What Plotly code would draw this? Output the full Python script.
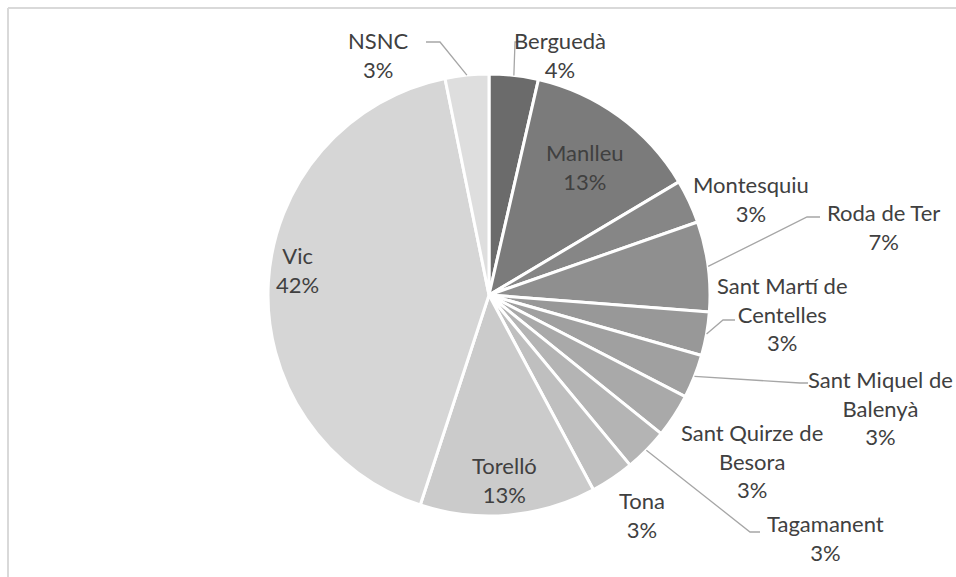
import math
import plotly.graph_objects as go

# 数据
labels = ["Berguedà", "Manlleu", "Montesquiu", "Roda de Ter", "Sant Martí de Centelles",
          "Sant Miquel de Balenyà", "Sant Quirze de Besora", "Tagamanent", "Tona",
          "Torelló", "Vic", "NSNC"]
values = [3.6, 12.9, 3.2, 6.6, 3.2, 3.2, 3.2, 3.2, 3.2, 12.9, 41.9, 3.2]
colors = ["#6b6b6b", "#7b7b7b", "#868686", "#8f8f8f", "#989898", "#a0a0a0",
          "#a9a9a9", "#b4b4b4", "#bfbfbf", "#cbcbcb", "#d6d6d6", "#dedede"]
# label text as shown (line breaks)
label_text = ["Berguedà", "Manlleu", "Montesquiu", "Roda de Ter", "Sant Martí de<br>Centelles",
              "Sant Miquel de<br>Balenyà", "Sant Quirze de<br>Besora", "Tagamanent", "Tona",
              "Torelló", "Vic", "NSNC"]

W, H = 956, 577
CX, CY, R = 489, 295, 221  # pie centre / radius in pixels

# label centres (pixels) and leader-line elbows
label_pos = {
    "Berguedà": (560, 55), "Manlleu": (585, 167), "Montesquiu": (751, 199),
    "Roda de Ter": (883, 227), "Sant Martí de Centelles": (782, 314),
    "Sant Miquel de Balenyà": (880, 408), "Sant Quirze de Besora": (752, 461),
    "Tagamanent": (825, 538), "Tona": (642, 515), "Torelló": (504, 480),
    "Vic": (297, 270), "NSNC": (378, 55),
}
elbows = {
    "Berguedà": [(515, 42), (525, 42)],
    "NSNC": [(440, 42), (426, 42)],
    "Roda de Ter": [(807, 217), (820, 217)],
    "Sant Martí de Centelles": [(723, 320), (735, 320)],
    "Sant Miquel de Balenyà": [(800, 383), (808, 383)],
    "Tagamanent": [(750, 532), (760, 532)],
}


def px(x, y):
    return x / W, 1 - y / H


fig = go.Figure(
    go.Pie(
        labels=labels,
        values=values,
        sort=False,
        direction="clockwise",
        rotation=0,
        marker=dict(colors=colors, line=dict(color="white", width=3)),
        textinfo="none",
        textposition="inside",
        hoverinfo="label+percent",
        domain=dict(x=[(CX - R) / W, (CX + R) / W],
                    y=[1 - (CY + R) / H, 1 - (CY - R) / H]),
        showlegend=False,
    )
)

total = sum(values)
annotations = []
shapes = []
cum = 0
for name, txt, v in zip(labels, label_text, values):
    mid = (cum + v / 2) / total * 2 * math.pi
    cum += v
    pct = round(v / total * 100)
    lx, ly = label_pos[name]
    ax, ay = px(lx, ly)
    annotations.append(dict(
        x=ax, y=ay, xref="paper", yref="paper", showarrow=False,
        xanchor="center", yanchor="middle",
        text=f"{txt}<br>{pct}%", align="center",
        font=dict(family="Lato", size=22, color="#404040"),
    ))
    if name in elbows:
        pts = [(CX + R * math.sin(mid), CY - R * math.cos(mid))] + elbows[name]
        path = "M " + " L ".join(f"{px(x, y)[0]},{px(x, y)[1]}" for x, y in pts)
        shapes.append(dict(type="path", xref="paper", yref="paper", path=path,
                           line=dict(color="#a6a6a6", width=1.3)))

# chart frame (cropped)
fx, fy = px(8, 8)
shapes.append(dict(type="line", xref="paper", yref="paper", x0=fx, y0=fy, x1=1, y1=fy,
                   line=dict(color="#d9d9d9", width=2)))
shapes.append(dict(type="line", xref="paper", yref="paper", x0=fx, y0=fy, x1=fx, y1=0,
                   line=dict(color="#d9d9d9", width=2)))

fig.update_layout(
    width=W, height=H,
    margin=dict(l=0, r=0, t=0, b=0),
    paper_bgcolor="white",
    plot_bgcolor="white",
    annotations=annotations,
    shapes=shapes,
)

fig.write_html("out.html", config={"displayModeBar": False},
               post_script="document.body.style.margin='0';")
